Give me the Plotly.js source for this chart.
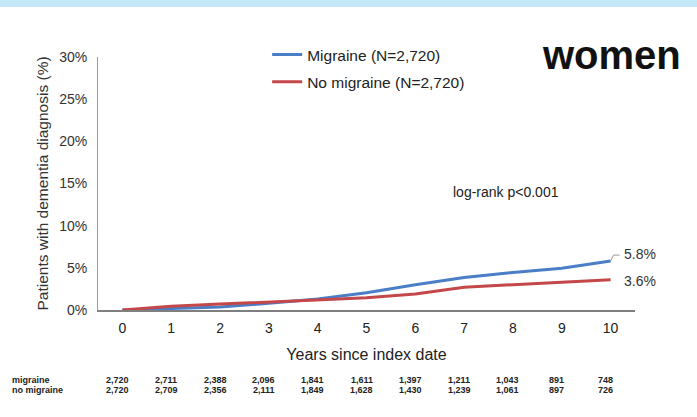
<!DOCTYPE html>
<html>
<head>
<meta charset="utf-8">
<script src="https://cdn.plot.ly/plotly-3.0.1.min.js"></script>
<style>html,body{margin:0;padding:0;background:#fff}#chart{width:697px;height:417px}</style>
</head>
<body>
<div id="chart"></div>
<script>
const years = [0,1,2,3,4,5,6,7,8,9,10];
const migraine = [0,0.15,0.35,0.8,1.3,2.05,3.0,3.85,4.45,4.95,5.8];
const noMigraine = [0,0.45,0.7,0.95,1.25,1.45,1.9,2.7,3.0,3.3,3.6];
const riskMigraine = ["2,720","2,711","2,388","2,096","1,841","1,611","1,397","1,211","1,043","891","748"];
const riskNoMigraine = ["2,720","2,709","2,356","2,111","1,849","1,628","1,430","1,239","1,061","897","726"];
const yTicks = [0,5,10,15,20,25,30];
const yTickText = ["0%","5%","10%","15%","20%","25%","30%"];
const endLabels = ["5.8%","3.6%"];

const blue = "#4a7ec6", red = "#c4474a";
const traces = [
  {x: years, y: migraine, mode: "lines", name: "Migraine (N=2,720)", line: {color: blue, width: 3}, legendgroup: "a"},
  {x: years, y: noMigraine, mode: "lines", name: "No migraine (N=2,720)", line: {color: red, width: 3}, legendgroup: "b"}
];

const annotations = [];
const tblFont = {family: "Liberation Sans, Arial, sans-serif", size: 9, color: "#222", weight: "bold"};
annotations.push({xref: "paper", yref: "paper", x: 0, y: 0, xshift: -88, yshift: -70, xanchor: "left", yanchor: "middle", text: "<b>migraine</b>", showarrow: false, font: tblFont});
annotations.push({xref: "paper", yref: "paper", x: 0, y: 0, xshift: -88, yshift: -80, xanchor: "left", yanchor: "middle", text: "<b>no migraine</b>", showarrow: false, font: tblFont});
years.forEach((yr, i) => {
  annotations.push({xref: "x", yref: "paper", x: yr, y: 0, xshift: -5, yshift: -70, xanchor: "center", yanchor: "middle", text: "<b>" + riskMigraine[i] + "</b>", showarrow: false, font: tblFont});
  annotations.push({xref: "x", yref: "paper", x: yr, y: 0, xshift: -5, yshift: -80, xanchor: "center", yanchor: "middle", text: "<b>" + riskNoMigraine[i] + "</b>", showarrow: false, font: tblFont});
});
const last = years.length - 1;
annotations.push({xref: "x", yref: "y", x: years[last], y: migraine[last], xshift: 11, yshift: 7, xanchor: "left", yanchor: "middle", text: endLabels[0], showarrow: false, font: {family: "Liberation Sans, Arial, sans-serif", size: 14, color: "#333"}});
annotations.push({xref: "x", yref: "y", x: years[last], y: noMigraine[last], xshift: 11, yshift: -1, xanchor: "left", yanchor: "middle", text: endLabels[1], showarrow: false, font: {family: "Liberation Sans, Arial, sans-serif", size: 14, color: "#333"}});
annotations.push({xref: "x", yref: "y", x: 7.85, y: 14, xanchor: "center", yanchor: "middle", text: "log-rank p<0.001", showarrow: false, font: {family: "Liberation Sans Narrow, Liberation Sans, Arial, sans-serif", size: 14, color: "#222"}});
annotations.push({xref: "paper", yref: "paper", x: 1, y: 1, xshift: 48, yshift: 2, xanchor: "right", yanchor: "middle", text: "<b>women</b>", showarrow: false, font: {family: "Liberation Sans, Arial, sans-serif", size: 40, color: "#111"}});

const layout = {
  width: 697, height: 417,
  margin: {l: 98, r: 62, t: 57, b: 107},
  paper_bgcolor: "#fff", plot_bgcolor: "#fff",
  font: {family: "Liberation Sans, Arial, sans-serif", color: "#333"},
  showlegend: true,
  legend: {x: 0.315, y: 1.075, xanchor: "left", yanchor: "top", font: {size: 15.5, color: "#222"}, bgcolor: "rgba(0,0,0,0)", tracegroupgap: 4, itemwidth: 30},
  xaxis: {range: [-0.5, 10.5], tickvals: years, ticks: "", showgrid: false, zeroline: false, showline: true, linecolor: "#7f7f7f", linewidth: 2,
    ticklabelstandoff: 4,
    tickfont: {size: 14, color: "#222"}, title: {text: "Years since index date", font: {size: 16, color: "#222"}, standoff: 14}},
  yaxis: {range: [0, 30], tickvals: yTicks, ticktext: yTickText, ticks: "", showgrid: false, zeroline: false, showline: true, linecolor: "#9a9a9a", linewidth: 1,
    ticklabelstandoff: 7,
    tickfont: {size: 14, color: "#333"}, title: {text: "Patients with dementia diagnosis (%)", font: {size: 15.5, color: "#333"}, standoff: 6}},
  shapes: [
    {type: "rect", xref: "paper", yref: "paper", x0: -0.2, x1: 1.2, ysizemode: "pixel", yanchor: 1, y0: 50, y1: 58, fillcolor: "#c5e7fa", line: {width: 0}},
    {type: "path", xref: "x", yref: "y", xsizemode: "pixel", ysizemode: "pixel", xanchor: years[last], yanchor: migraine[last], path: "M0,0 L3,6 L9,6", line: {color: "#999", width: 1}}
  ],
  annotations: annotations
};

Plotly.newPlot("chart", traces, layout, {displayModeBar: false, staticPlot: true});
</script>
</body>
</html>
